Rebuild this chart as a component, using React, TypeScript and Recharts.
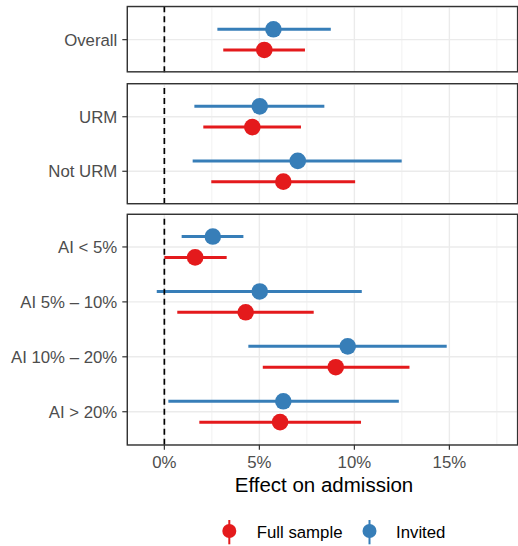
import React from 'react';
import {
  ComposedChart,
  Scatter,
  XAxis,
  YAxis,
  CartesianGrid,
  ErrorBar,
  ReferenceLine,
} from 'recharts';

// ---------- data ----------
const categories = ['Overall', 'URM', 'Not URM', 'AI < 5%', 'AI 5% – 10%', 'AI 10% – 20%', 'AI > 20%'];
const invitedEst = [5.74, 5.02, 7.02, 2.55, 5.02, 9.65, 6.26];
const invitedLo = [2.79, 1.58, 1.49, 0.91, -0.4, 4.42, 0.21];
const invitedHi = [8.76, 8.42, 12.49, 4.16, 10.39, 14.86, 12.34];
const fullEst = [5.26, 4.63, 6.26, 1.62, 4.28, 9.02, 6.09];
const fullLo = [3.1, 2.05, 2.47, 0.0, 0.68, 5.18, 1.84];
const fullHi = [7.4, 7.19, 10.04, 3.28, 7.86, 12.9, 10.35];
const xTicks = [0, 5, 10, 15];
const xMinorTicks = [2.5, 7.5, 12.5, 17.5];
const seriesNames = ['Full sample', 'Invited'];

// ---------- style / layout ----------
const FONT = '"Liberation Sans", Arial, Helvetica, sans-serif';
const RED = '#E41A1C';
const BLUE = '#377EB8';
const GRID = '#EBEBEB';
const BORDER = '#333333';
const TEXT = '#4D4D4D';
const PANEL_LEFT = 127.3;
const PANEL_RIGHT = 517.6;
const X_DOMAIN: [number, number] = [-1.95, 18.59];
const DODGE = 0.19;
const AXIS_FONT = 16.8;

const panels = [
  { start: 0, count: 1, top: 6.5, height: 65.3 },
  { start: 1, count: 2, top: 83.7, height: 120 },
  { start: 3, count: 4, top: 214.3, height: 230.7 },
];

const dot = (color: string) => (props: any) => {
  const { cx, cy } = props;
  if (cx == null || cy == null) return <g />;
  return <circle cx={cx} cy={cy} r={8.3} fill={color} />;
};

function Panel({ start, count, top, height, showX }: { start: number; count: number; top: number; height: number; showX: boolean }) {
  const cats = categories.slice(start, start + count);
  const idx = cats.map((_, i) => i);
  const full = cats.map((_, i) => {
    const k = start + i;
    return { x: fullEst[k], y: i + DODGE, err: [fullEst[k] - fullLo[k], fullHi[k] - fullEst[k]] };
  });
  const invited = cats.map((_, i) => {
    const k = start + i;
    return { x: invitedEst[k], y: i - DODGE, err: [invitedEst[k] - invitedLo[k], invitedHi[k] - invitedEst[k]] };
  });
  const PAD = 4;
  const xAxisH = showX ? 30 : 0;
  const h = PAD + height + xAxisH + PAD;
  return (
    <div style={{ position: 'absolute', left: 0, top: top - PAD }}>
      <ComposedChart
        width={518}
        height={h}
        margin={{ top: PAD, right: 518 - PANEL_RIGHT, bottom: PAD, left: 0 }}
      >
        <CartesianGrid xAxisId="minor" yAxisId="y" horizontal={false} stroke={GRID} strokeWidth={0.7} />
        <CartesianGrid xAxisId="x" yAxisId="y" stroke={GRID} strokeWidth={1.4} />
        <XAxis
          xAxisId="minor"
          orientation="top"
          height={0}
          type="number"
          dataKey="x"
          domain={X_DOMAIN}
          ticks={xMinorTicks}
          allowDataOverflow
          hide
        />
        <XAxis
          xAxisId="x"
          type="number"
          dataKey="x"
          domain={X_DOMAIN}
          ticks={xTicks}
          allowDataOverflow
          hide={!showX}
          height={xAxisH}
          interval={0}
          axisLine={false}
          tickLine={{ stroke: BORDER, strokeWidth: 1.2 }}
          tickSize={5}
          tickMargin={6.5}
          tick={{ fill: TEXT, fontSize: AXIS_FONT, fontFamily: FONT }}
          tickFormatter={(v: number) => `${v}%`}
        />
        <YAxis
          yAxisId="y"
          type="number"
          dataKey="y"
          domain={[-0.6, count - 0.4]}
          ticks={idx}
          reversed
          allowDataOverflow
          width={PANEL_LEFT}
          interval={0}
          axisLine={false}
          tickLine={{ stroke: BORDER, strokeWidth: 1.2 }}
          tickSize={5}
          tickMargin={5}
          tick={{ fill: TEXT, fontSize: AXIS_FONT, fontFamily: FONT }}
          tickFormatter={(i: number) => cats[i] ?? ''}
        />
        <Scatter name={seriesNames[0]} data={full} xAxisId="x" yAxisId="y" fill={RED} shape={dot(RED)} isAnimationActive={false}>
          <ErrorBar dataKey="err" direction="x" width={0} stroke={RED} strokeWidth={3} isAnimationActive={false} />
        </Scatter>
        <Scatter name={seriesNames[1]} data={invited} xAxisId="x" yAxisId="y" fill={BLUE} shape={dot(BLUE)} isAnimationActive={false}>
          <ErrorBar dataKey="err" direction="x" width={0} stroke={BLUE} strokeWidth={3} isAnimationActive={false} />
        </Scatter>
        <ReferenceLine x={0} xAxisId="x" yAxisId="y" stroke="#000000" strokeWidth={1.7} strokeDasharray="6 4" />
      </ComposedChart>
    </div>
  );
}

export default function App() {
  return (
    <div style={{ position: 'absolute', left: 0, top: 0, width: 518, height: 546, background: '#fff', fontFamily: FONT }}>
      {panels.map((p, i) => (
        <Panel key={i} {...p} showX={i === panels.length - 1} />
      ))}
      <svg width={518} height={546} style={{ position: 'absolute', left: 0, top: 0, pointerEvents: 'none' }}>
        {panels.map((p, i) => (
          <rect key={i} x={PANEL_LEFT} y={p.top} width={PANEL_RIGHT - PANEL_LEFT} height={p.height} fill="none" stroke={BORDER} strokeWidth={1.4} />
        ))}
        <text x={324} y={491.7} textAnchor="middle" fontSize={20.5} fontFamily={FONT} fill="#000">
          Effect on admission
        </text>
        <g>
          <line x1={229.3} x2={229.3} y1={520} y2={544.3} stroke={RED} strokeWidth={2} />
          <circle cx={229.3} cy={531} r={7} fill={RED} />
          <text x={256.7} y={537.5} fontSize={16.8} fontFamily={FONT} fill="#000">{seriesNames[0]}</text>
          <line x1={369.5} x2={369.5} y1={520} y2={544.3} stroke={BLUE} strokeWidth={2} />
          <circle cx={369.5} cy={531} r={7} fill={BLUE} />
          <text x={396} y={537.5} fontSize={16.8} fontFamily={FONT} fill="#000">{seriesNames[1]}</text>
        </g>
      </svg>
    </div>
  );
}
